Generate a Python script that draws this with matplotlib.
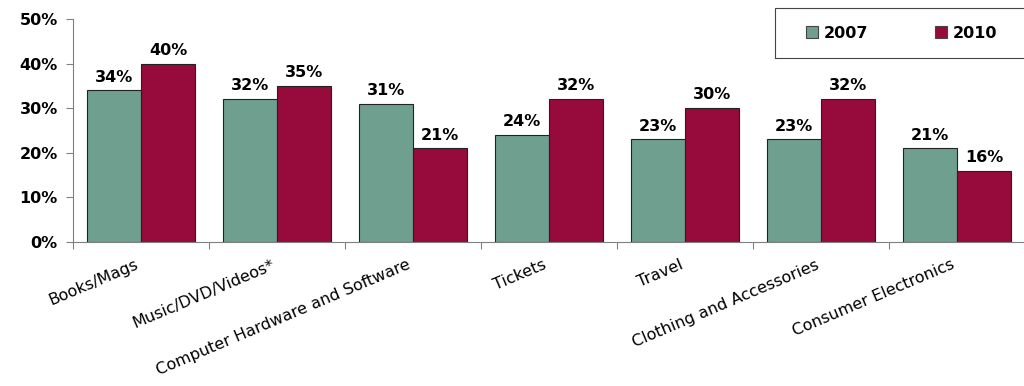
import numpy as np
import matplotlib.pyplot as plt
import matplotlib.transforms as mtransforms
from matplotlib.patches import Rectangle
from matplotlib.ticker import FuncFormatter

plt.rcParams['font.family'] = ['DejaVu Sans']

categories = ['Books/Mags', 'Music/DVD/Videos*', 'Computer Hardware and Software',
              'Tickets', 'Travel', 'Clothing and Accessories', 'Consumer Electronics']
vals_2007 = [34, 32, 31, 24, 23, 23, 21]
vals_2010 = [40, 35, 21, 32, 30, 32, 16]

green = '#6fa08f'
red = '#960b3c'

fig = plt.figure(figsize=(10.24, 3.86), dpi=100)
ax = fig.add_axes([73/1024, 1 - 242/386, 952/1024, 223/386])

x = np.arange(len(categories))
w = 0.4
b1 = ax.bar(x - w/2, vals_2007, w, color=green, edgecolor='#222222', linewidth=0.8, label='2007')
b2 = ax.bar(x + w/2, vals_2010, w, color=red, edgecolor='#222222', linewidth=0.8, label='2010')

for bars, vals in ((b1, vals_2007), (b2, vals_2010)):
    for b, v in zip(bars, vals):
        ax.text(b.get_x() + b.get_width()/2, v + 1.3, f'{v}%', ha='center', va='bottom',
                fontsize=11.5, fontweight='bold')

ax.set_xlim(-0.5, len(categories) - 0.5)
ax.set_ylim(0, 50)
ax.set_yticks(range(0, 51, 10))
ax.yaxis.set_major_formatter(FuncFormatter(lambda v, p: f'{int(v)}%'))
ax.set_xticks(np.arange(len(categories) + 1) - 0.5, minor=False)
ax.set_xticklabels([])
ax.set_xticks(x, minor=True)
ax.set_xticklabels(categories, minor=True, rotation=23, ha='right', rotation_mode='anchor',
                   fontsize=11.5)
ax.tick_params(axis='x', which='minor', length=0, pad=11)
ax.tick_params(axis='x', which='major', length=5, color='#808080')
ax.tick_params(axis='y', length=5, color='#808080', labelsize=11.5, pad=6)
for lab in ax.get_yticklabels():
    lab.set_fontweight('bold')
shift = mtransforms.ScaledTranslation(-6/100, 0, fig.dpi_scale_trans)
for lab in ax.get_xticklabels(minor=True):
    lab.set_transform(lab.get_transform() + shift)

for s in ('top', 'right'):
    ax.spines[s].set_visible(False)
for s in ('left', 'bottom'):
    ax.spines[s].set_color('#808080')

# legend box
fig.patches.append(Rectangle((775/1024, 1 - 58/386), 260/1024, 50/386, transform=fig.transFigure,
                             fill=False, edgecolor='#444444', linewidth=0.8))
leg = fig.legend(loc='center left', bbox_to_anchor=(806/1024, 1 - 33/386), ncol=2,
                 frameon=False, handlelength=0.75, handleheight=0.75, columnspacing=4.2,
                 handletextpad=0.35, borderpad=0, borderaxespad=0,
                 prop={'weight': 'bold', 'size': 11.5})
for h in leg.legend_handles:
    h.set_edgecolor('#444444')

fig.savefig('out.png', dpi=100)
